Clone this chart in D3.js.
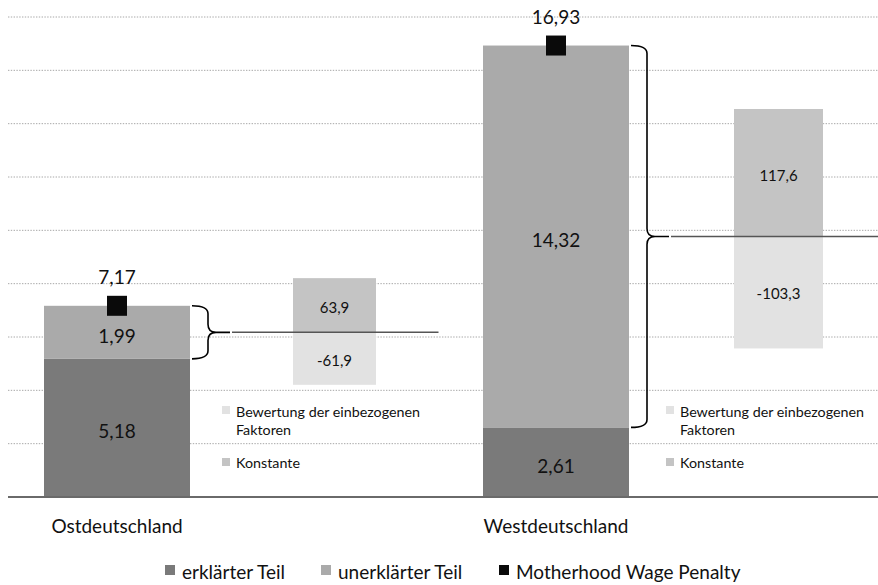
<!DOCTYPE html>
<html>
<head>
<meta charset="utf-8">
<script src="https://cdn.jsdelivr.net/npm/d3@7"></script>
<style>
  html, body { margin: 0; padding: 0; background: #fff; }
  svg { display: block; }
  text { font-family: Lato, "Liberation Sans", sans-serif; fill: #111; }
</style>
</head>
<body>
<svg id="chart" width="878" height="585"></svg>
<script>
// ---------- data ----------
const regions = ["Ostdeutschland", "Westdeutschland"];
const explained = [5.18, 2.61];      // erklärter Teil
const unexplained = [1.99, 14.32];   // unerklärter Teil
const penalty = [7.17, 16.93];       // Motherhood Wage Penalty
const konstante = [63.9, 117.6];     // Konstante (decomposition of unexplained part)
const bewertung = [-61.9, -103.3];   // Bewertung der einbezogenen Faktoren
const yTickValues = [0, 2, 4, 6, 8, 10, 12, 14, 16, 18];
const mainLegend = ["erklärter Teil", "unerklärter Teil", "Motherhood Wage Penalty"];
const sideLegend = [["Bewertung der einbezogenen", "Faktoren"], ["Konstante"]];

// ---------- layout / style ----------
const W = 878, H = 585;
const colExplained = "#7a7a7a", colUnexplained = "#aaaaaa", colPenalty = "#0a0a0a";
const colKonst = "#c4c4c4", colBew = "#e2e2e2";
const sidePxPerUnit = [0.848, 1.084];   // drawing scale of each side panel

const de = d3.formatLocale({decimal: ",", thousands: ".", grouping: [3], currency: ["", " €"], minus: "-"});
const f2 = de.format(".2f"), f1 = de.format(".1f");

const svg = d3.select("#chart");

const y = d3.scaleLinear().domain([0, 18]).range([497, 17]);
const x = d3.scaleBand().domain(regions).range([8, 8 + 878]).paddingInner(0).paddingOuter(0);
const barOff = 36, barW = 146;
const sideOff = [285, 287], sideW = [83, 89];

// gridlines
svg.append("g").selectAll("line")
  .data(yTickValues.filter(v => v > 0))
  .join("line")
  .attr("x1", 8).attr("x2", W)
  .attr("y1", d => y(d)).attr("y2", d => y(d))
  .attr("stroke", "#a8a8a8").attr("stroke-width", 1)
  .attr("stroke-dasharray", "1.4,1.4");

const g = svg.append("g");

regions.forEach((r, i) => {
  const bx = x(r) + barOff;
  const cx = bx + barW / 2;
  // explained segment
  g.append("rect").attr("x", bx).attr("width", barW)
    .attr("y", y(explained[i])).attr("height", y(0) - y(explained[i]))
    .attr("fill", colExplained);
  // unexplained segment
  const top = explained[i] + unexplained[i];
  g.append("rect").attr("x", bx).attr("width", barW)
    .attr("y", y(top)).attr("height", y(explained[i]) - y(top))
    .attr("fill", colUnexplained);
  // labels
  g.append("text").attr("x", cx).attr("y", (y(0) + y(explained[i])) / 2 + 3)
    .attr("text-anchor", "middle").attr("dominant-baseline", "central")
    .attr("font-size", 19).text(f2(explained[i]));
  g.append("text").attr("x", cx).attr("y", (y(explained[i]) + y(top)) / 2 + 3)
    .attr("text-anchor", "middle").attr("dominant-baseline", "central")
    .attr("font-size", 19).text(f2(unexplained[i]));
  // penalty marker
  g.append("rect").attr("x", cx - 10).attr("y", y(penalty[i]) - 10)
    .attr("width", 20).attr("height", 20).attr("fill", colPenalty);
  g.append("text").attr("x", cx).attr("y", y(penalty[i]) - 29)
    .attr("text-anchor", "middle").attr("dominant-baseline", "central")
    .attr("font-size", 19).text(f2(penalty[i]));
  // category label
  g.append("text").attr("x", cx).attr("y", 525)
    .attr("text-anchor", "middle").attr("dominant-baseline", "central")
    .attr("font-size", 19).text(r);

  // brace
  const x0 = bx + barW + 2, xv = x0 + 16, tip = x0 + 38;
  const yt = y(top), yb = y(explained[i]), ym = (yt + yb) / 2;
  const rr = Math.min(8, (yb - yt) / 5);
  const p = d3.path();
  p.moveTo(x0, yt);
  p.quadraticCurveTo(xv, yt, xv, yt + rr);
  p.lineTo(xv, ym - rr);
  p.quadraticCurveTo(xv, ym, xv + rr, ym);
  p.lineTo(tip, ym);
  p.moveTo(xv + rr, ym);
  p.quadraticCurveTo(xv, ym, xv, ym + rr);
  p.lineTo(xv, yb - rr);
  p.quadraticCurveTo(xv, yb, x0, yb);
  g.append("path").attr("d", p.toString()).attr("fill", "none")
    .attr("stroke", "#000").attr("stroke-width", 1.6);

  // side panel
  const k = sidePxPerUnit[i];
  const y2 = d3.scaleLinear().domain([-100, 100]).range([ym + 100 * k, ym - 100 * k]);
  const sx = x(r) + sideOff[i], sw = sideW[i];
  g.append("rect").attr("x", sx).attr("width", sw)
    .attr("y", y2(konstante[i])).attr("height", y2(0) - y2(konstante[i]))
    .attr("fill", colKonst);
  g.append("rect").attr("x", sx).attr("width", sw)
    .attr("y", y2(0)).attr("height", y2(bewertung[i]) - y2(0))
    .attr("fill", colBew);
  g.append("text").attr("x", sx + sw / 2).attr("y", (y2(0) + y2(konstante[i])) / 2 + 2)
    .attr("text-anchor", "middle").attr("dominant-baseline", "central")
    .attr("font-size", 15).text(f1(konstante[i]));
  g.append("text").attr("x", sx + sw / 2).attr("y", (y2(0) + y2(bewertung[i])) / 2 + 1)
    .attr("text-anchor", "middle").attr("dominant-baseline", "central")
    .attr("font-size", 15).text(f1(bewertung[i]));
  // zero line
  g.append("line").attr("x1", tip + 2).attr("x2", Math.min(W, sx + sw / 2 + 104))
    .attr("y1", y2(0)).attr("y2", y2(0))
    .attr("stroke", "#555").attr("stroke-width", 1.5);

  // side legend
  const lx = x(r) + 214 + (i === 1 ? 5 : 0);
  const sl = g.append("g");
  sl.append("rect").attr("x", lx).attr("y", 406).attr("width", 8).attr("height", 8).attr("fill", colBew);
  sideLegend[0].forEach((t, j) => {
    sl.append("text").attr("x", lx + 14).attr("y", 411 + j * 18)
      .attr("dominant-baseline", "central").attr("font-size", 14.3).text(t);
  });
  sl.append("rect").attr("x", lx).attr("y", 458).attr("width", 8).attr("height", 8).attr("fill", colKonst);
  sl.append("text").attr("x", lx + 14).attr("y", 462)
    .attr("dominant-baseline", "central").attr("font-size", 14.3).text(sideLegend[1][0]);
});

// baseline
svg.append("line").attr("x1", 8).attr("x2", W).attr("y1", y(0)).attr("y2", y(0))
  .attr("stroke", "#6a6a6a").attr("stroke-width", 2);

// main legend
const legX = [165, 321, 499];
const legCol = [colExplained, colUnexplained, colPenalty];
const lg = svg.append("g");
mainLegend.forEach((t, i) => {
  lg.append("rect").attr("x", legX[i]).attr("y", 565).attr("width", 10).attr("height", 10).attr("fill", legCol[i]);
  lg.append("text").attr("x", legX[i] + 17).attr("y", 571)
    .attr("dominant-baseline", "central").attr("font-size", 19).text(t);
});
</script>
</body>
</html>
